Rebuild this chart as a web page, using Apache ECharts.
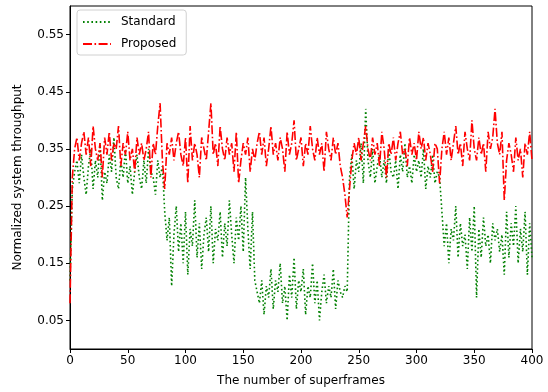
<!DOCTYPE html>
<html>
<head>
<meta charset="utf-8">
<script src="https://cdn.jsdelivr.net/npm/echarts@6/dist/echarts.min.js"></script>
<style>
  html, body { margin: 0; padding: 0; background: #fff; }
  #chart { width: 548px; height: 392px; }
</style>
</head>
<body>
<div id="chart"></div>
<script>
// superframe index step 2, 0..400
var step = 2;
var standard = [
  0.12, 0.28, 0.31, 0.33, 0.29, 0.34, 0.30, 0.27, 0.32, 0.35,
  0.28, 0.33, 0.30, 0.36, 0.26, 0.31, 0.29, 0.34, 0.31, 0.37,
  0.30, 0.28, 0.33, 0.30, 0.35, 0.29, 0.32, 0.27, 0.31, 0.34,
  0.30, 0.28, 0.33, 0.29, 0.35, 0.31, 0.30, 0.27, 0.33, 0.30,
  0.32, 0.24, 0.19, 0.23, 0.11, 0.20, 0.25, 0.17, 0.22, 0.15,
  0.24, 0.13, 0.21, 0.18, 0.26, 0.16, 0.22, 0.14, 0.20, 0.23,
  0.17, 0.25, 0.15, 0.21, 0.19, 0.24, 0.16, 0.22, 0.18, 0.26,
  0.20, 0.15, 0.23, 0.19, 0.25, 0.17, 0.30, 0.21, 0.14, 0.24,
  0.12, 0.10, 0.08, 0.12, 0.06, 0.11, 0.09, 0.14, 0.07, 0.12,
  0.10, 0.15, 0.08, 0.11, 0.05, 0.13, 0.09, 0.16, 0.07, 0.12,
  0.10, 0.14, 0.06, 0.11, 0.09, 0.15, 0.08, 0.12, 0.05, 0.10,
  0.13, 0.08, 0.11, 0.09, 0.14, 0.07, 0.12, 0.10, 0.09, 0.11,
  0.10, 0.30, 0.34, 0.28, 0.33, 0.31, 0.36, 0.29, 0.42, 0.33,
  0.30, 0.35, 0.29, 0.32, 0.34, 0.30, 0.33, 0.29, 0.35, 0.31,
  0.30, 0.33, 0.28, 0.34, 0.31, 0.36, 0.30, 0.32, 0.29, 0.34,
  0.31, 0.33, 0.30, 0.35, 0.28, 0.32, 0.30, 0.34, 0.29, 0.31,
  0.30, 0.24, 0.18, 0.22, 0.15, 0.21, 0.19, 0.25, 0.16, 0.22,
  0.18, 0.20, 0.14, 0.23, 0.17, 0.25, 0.09, 0.21, 0.16, 0.23,
  0.18, 0.20, 0.15, 0.22, 0.19, 0.21, 0.17, 0.20, 0.13, 0.24,
  0.16, 0.22, 0.18, 0.25, 0.15, 0.21, 0.17, 0.24, 0.13, 0.22,
  0.16
];
var proposed = [
  0.08, 0.30, 0.35, 0.37, 0.33, 0.36, 0.38, 0.34, 0.37, 0.32,
  0.39, 0.35, 0.33, 0.36, 0.30, 0.37, 0.34, 0.38, 0.33, 0.36,
  0.35, 0.39, 0.32, 0.36, 0.34, 0.38, 0.33, 0.35, 0.31, 0.37,
  0.34, 0.36, 0.33, 0.35, 0.38, 0.30, 0.36, 0.34, 0.39, 0.43,
  0.33, 0.28, 0.36, 0.34, 0.37, 0.33, 0.36, 0.38, 0.34, 0.32,
  0.37, 0.29, 0.39, 0.33, 0.36, 0.34, 0.30, 0.37, 0.35, 0.33,
  0.38, 0.43, 0.34, 0.36, 0.32, 0.39, 0.35, 0.33, 0.37, 0.34,
  0.36, 0.31, 0.38, 0.29, 0.33, 0.36, 0.34, 0.37, 0.31, 0.35,
  0.33, 0.36, 0.38, 0.34, 0.37, 0.32, 0.35, 0.39, 0.34, 0.36,
  0.33, 0.37, 0.35, 0.31, 0.38, 0.34, 0.36, 0.40, 0.33, 0.35,
  0.37, 0.32, 0.36, 0.34, 0.39, 0.35, 0.33, 0.37, 0.34, 0.36,
  0.31, 0.38, 0.35, 0.33, 0.37, 0.34, 0.36, 0.32, 0.30, 0.27,
  0.23, 0.28, 0.33, 0.36, 0.34, 0.37, 0.33, 0.36, 0.39, 0.35,
  0.33, 0.37, 0.34, 0.36, 0.32, 0.38, 0.35, 0.30, 0.36, 0.34,
  0.37, 0.33, 0.36, 0.38, 0.34, 0.35, 0.32, 0.37, 0.34, 0.36,
  0.33, 0.38, 0.35, 0.37, 0.33, 0.36, 0.34, 0.31, 0.36, 0.35,
  0.29, 0.35, 0.38, 0.34, 0.37, 0.33, 0.36, 0.39, 0.34, 0.36,
  0.32, 0.38, 0.35, 0.33, 0.40, 0.35, 0.33, 0.37, 0.34, 0.36,
  0.31, 0.38, 0.35, 0.37, 0.42, 0.36, 0.34, 0.38, 0.26, 0.33,
  0.36, 0.34, 0.31, 0.37, 0.33, 0.35, 0.30, 0.36, 0.34, 0.38,
  0.33
];
var yTicks = [0.05, 0.15, 0.25, 0.35, 0.45, 0.55];
var seriesNames = ['Standard', 'Proposed'];

function pairs(arr) {
    var out = [];
    for (var i = 0; i < arr.length; i++) {
        out.push([i * step, arr[i]]);
    }
    return out;
}

var font = 'DejaVu Sans';
var chart = echarts.init(document.getElementById('chart'), null, {renderer: 'canvas'});
var option = {
    animation: false,
    textStyle: {fontFamily: font},
    grid: {
        left: 70, right: 16, top: 6, bottom: 42,
        show: true, borderColor: '#000', borderWidth: 1, backgroundColor: 'transparent'
    },
    legend: {
        left: 77, top: 10,
        orient: 'vertical',
        itemWidth: 28, itemHeight: 10, itemGap: 10,
        padding: [6, 10, 5, 5],
        borderColor: '#d0d0d0', borderWidth: 1, borderRadius: 3,
        itemStyle: {opacity: 0},
        textStyle: {fontFamily: font, fontSize: 12, color: '#000', padding: [0, 0, 0, 5]},
        data: seriesNames
    },
    xAxis: {
        type: 'value', min: 0, max: 400, interval: 50,
        name: 'The number of superframes',
        nameLocation: 'middle', nameGap: 26,
        nameTextStyle: {fontFamily: font, fontSize: 12, color: '#000'},
        axisLine: {lineStyle: {color: '#000'}},
        axisTick: {show: true, length: 4, lineStyle: {color: '#000'}},
        axisLabel: {fontFamily: font, fontSize: 12, color: '#000', margin: 6},
        splitLine: {show: false}
    },
    yAxis: {
        type: 'value', min: 0, max: 0.6,
        name: 'Normalized system throughput',
        nameLocation: 'middle', nameGap: 46,
        nameTextStyle: {fontFamily: font, fontSize: 12, color: '#000'},
        axisLine: {show: true, lineStyle: {color: '#000'}},
        axisTick: {show: true, length: 4, lineStyle: {color: '#000'}, customValues: yTicks},
        axisLabel: {fontFamily: font, fontSize: 12, color: '#000', margin: 6, customValues: yTicks,
            formatter: function (v) { return v.toFixed(2); }},
        splitLine: {show: false}
    },
    series: [
        {
            name: seriesNames[0], type: 'line', data: pairs(standard),
            symbol: 'none', showSymbol: false,
            color: '#008000',
            lineStyle: {color: '#008000', width: 1.6, type: [1.6, 2.6]}
        },
        {
            name: seriesNames[1], type: 'line', data: pairs(proposed),
            symbol: 'none', showSymbol: false,
            color: '#ff0000',
            lineStyle: {color: '#ff0000', width: 1.6, type: [9, 2.5, 1.6, 2.5]}
        }
    ]
};
chart.setOption(option);
</script>
</body>
</html>
